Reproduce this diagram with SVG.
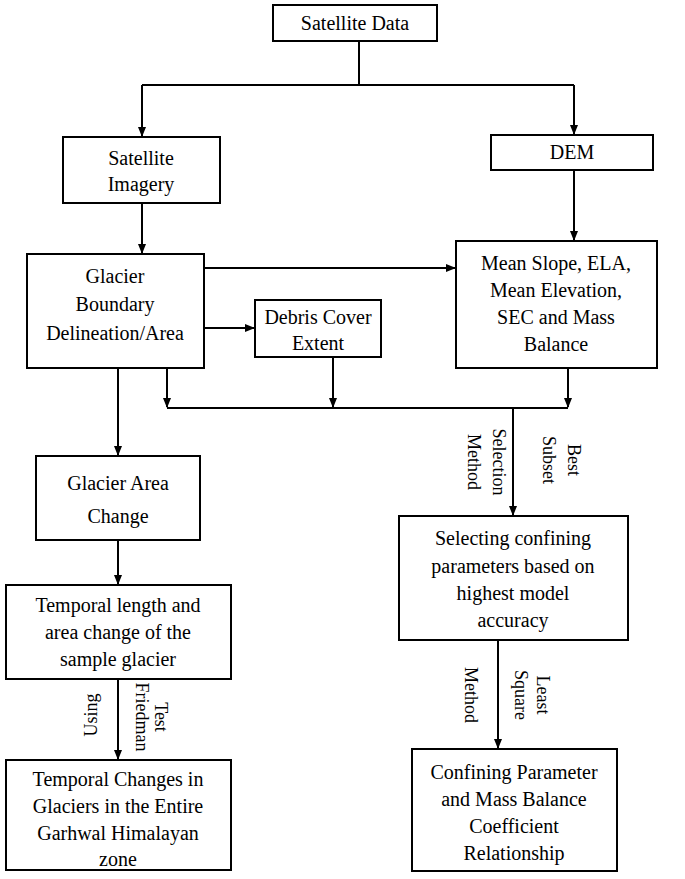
<svg xmlns="http://www.w3.org/2000/svg" width="685" height="879" viewBox="0 0 685 879">
<style>
rect{fill:#fff;stroke:#000;stroke-width:2}
text{font-family:"Liberation Serif","Times New Roman",serif;font-size:20px;fill:#000;text-anchor:middle}
.c path{fill:none;stroke:#000;stroke-width:2}
.s{font-size:18px}
</style>
<defs><marker id="a" markerWidth="10" markerHeight="10" refX="9" refY="5" orient="auto" markerUnits="userSpaceOnUse"><path d="M0,1 L10,5 L0,9z" fill="#000"/></marker></defs>
<g class="c">
<path d="M359,41V85M142,85H574"/>
<path d="M142,85V136" marker-end="url(#a)"/>
<path d="M574,85V134" marker-end="url(#a)"/>
<path d="M142,203V253" marker-end="url(#a)"/>
<path d="M204,268H455" marker-end="url(#a)"/>
<path d="M204,328H254" marker-end="url(#a)"/>
<path d="M574,170V240" marker-end="url(#a)"/>
<path d="M167,368V407" marker-end="url(#a)"/>
<path d="M333,357V407" marker-end="url(#a)"/>
<path d="M568,368V407" marker-end="url(#a)"/>
<path d="M167,408H568"/>
<path d="M513,408V515" marker-end="url(#a)"/>
<path d="M118,368V455" marker-end="url(#a)"/>
<path d="M118,540V584" marker-end="url(#a)"/>
<path d="M118,679V759" marker-end="url(#a)"/>
<path d="M498,640V748" marker-end="url(#a)"/>
</g>
<g class="s">
<text class="s" transform="translate(468,462) rotate(90)">Method</text>
<text class="s" transform="translate(493,462) rotate(90)">Selection</text>
<text class="s" transform="translate(543,460) rotate(90)">Subset</text>
<text class="s" transform="translate(568,460) rotate(90)">Best</text>
<text class="s" transform="translate(97,715) rotate(-90)">Using</text>
<text class="s" transform="translate(136,717) rotate(90)">Friedman</text>
<text class="s" transform="translate(155,717) rotate(90)">Test</text>
<text class="s" transform="translate(465,695) rotate(90)">Method</text>
<text class="s" transform="translate(515,695) rotate(90)">Square</text>
<text class="s" transform="translate(537,695) rotate(90)">Least</text>
</g>
<g id="n1"><rect x="273" y="5" width="164" height="36"/><text x="355" y="30">Satellite Data</text></g>
<g id="n2"><rect x="63" y="137" width="157" height="66"/><text x="141" y="165">Satellite</text><text x="141" y="191">Imagery</text></g>
<g id="n3"><rect x="491" y="135" width="162" height="35"/><text x="572" y="159">DEM</text></g>
<g id="n4"><rect x="27" y="254" width="177" height="114"/><text x="115" y="283">Glacier</text><text x="115" y="311">Boundary</text><text x="115" y="340">Delineation/Area</text></g>
<g id="n5"><rect x="255" y="300" width="126" height="57"/><text x="318" y="324">Debris Cover</text><text x="318" y="350">Extent</text></g>
<g id="n6"><rect x="456" y="241" width="201" height="127"/><text x="556" y="270">Mean Slope, ELA,</text><text x="556" y="297">Mean Elevation,</text><text x="556" y="324">SEC and Mass</text><text x="556" y="351">Balance</text></g>
<g id="n7"><rect x="36" y="456" width="164" height="84"/><text x="118" y="490">Glacier Area</text><text x="118" y="523">Change</text></g>
<g id="n8"><rect x="399" y="516" width="229" height="124"/><text x="513" y="545">Selecting confining</text><text x="513" y="573">parameters based on</text><text x="513" y="600">highest model</text><text x="513" y="627">accuracy</text></g>
<g id="n9"><rect x="6" y="585" width="225" height="94"/><text x="118" y="612">Temporal length and</text><text x="118" y="639">area change of the</text><text x="118" y="666">sample glacier</text></g>
<g id="n10"><rect x="6" y="760" width="225" height="110"/><text x="118" y="786">Temporal Changes in</text><text x="118" y="813">Glaciers in the Entire</text><text x="118" y="840">Garhwal Himalayan</text><text x="118" y="866">zone</text></g>
<g id="n11"><rect x="412" y="749" width="205" height="122"/><text x="514" y="779">Confining Parameter</text><text x="514" y="806">and Mass Balance</text><text x="514" y="833">Coefficient</text><text x="514" y="860">Relationship</text></g>
</svg>
